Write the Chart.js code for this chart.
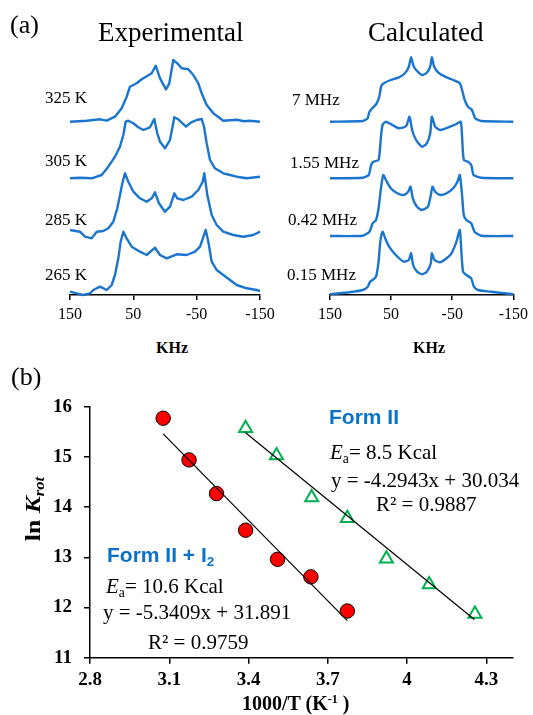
<!DOCTYPE html>
<html>
<head>
<meta charset="utf-8">
<script src="https://cdn.jsdelivr.net/npm/chart.js@4.4.1/dist/chart.umd.min.js"></script>
<style>
  body { margin: 0; background: #fff; }
  #page { position: relative; width: 533px; height: 715px; overflow: hidden; font-family: "Liberation Serif", serif; color: #000; }
  canvas { position: absolute; }
  .t { position: absolute; white-space: nowrap; line-height: 1; }
  .blue { font-family: "Liberation Sans", sans-serif; font-weight: bold; color: #0b72c9; }
  .sub { font-size: 0.65em; position: relative; top: 0.28em; }
</style>
</head>
<body>
<div id="page">
  <canvas id="expChart" width="290" height="330" style="left:0;top:0"></canvas>
  <canvas id="calcChart" width="273" height="330" style="left:260px;top:0"></canvas>
  <canvas id="arrChart" width="533" height="355" style="left:0;top:360px"></canvas>

  <div class="t" style="left:10px;top:12px;font-size:26px">(a)</div>
  <div class="t" style="left:98px;top:19px;font-size:27px">Experimental</div>
  <div class="t" style="left:368px;top:19px;font-size:27px">Calculated</div>

  <div class="t" style="left:45px;top:89px;font-size:17px">325 K</div>
  <div class="t" style="left:45px;top:152px;font-size:17px">305 K</div>
  <div class="t" style="left:45px;top:211px;font-size:17px">285 K</div>
  <div class="t" style="left:45px;top:266px;font-size:17px">265 K</div>

  <div class="t" style="left:292px;top:91px;font-size:17px">7 MHz</div>
  <div class="t" style="left:290px;top:154px;font-size:17px">1.55 MHz</div>
  <div class="t" style="left:288px;top:211px;font-size:17px">0.42 MHz</div>
  <div class="t" style="left:287px;top:266px;font-size:17px">0.15 MHz</div>

  <div class="t" style="left:156px;top:340px;font-size:16px;font-weight:bold">KHz</div>
  <div class="t" style="left:413px;top:340px;font-size:16px;font-weight:bold">KHz</div>

  <div class="t" style="left:11px;top:364px;font-size:26px">(b)</div>

  <div class="t blue" style="left:329px;top:406px;font-size:21px">Form II</div>
  <div class="t" style="left:330px;top:442px;font-size:21px"><i>E</i><span class="sub">a</span>= 8.5 Kcal</div>
  <div class="t" style="left:331px;top:470px;font-size:21px">y = -4.2943x + 30.034</div>
  <div class="t" style="left:376px;top:494px;font-size:21px">R² = 0.9887</div>

  <div class="t blue" style="left:107px;top:544px;font-size:21px">Form II + I<span class="sub">2</span></div>
  <div class="t" style="left:106px;top:576px;font-size:21px"><i>E</i><span class="sub">a</span>= 10.6 Kcal</div>
  <div class="t" style="left:103px;top:602px;font-size:21px">y = -5.3409x + 31.891</div>
  <div class="t" style="left:148px;top:632px;font-size:21px">R² = 0.9759</div>

  <div class="t" style="left:33px;top:509px;transform:translate(-50%,-50%) rotate(-90deg) scaleX(1.22);font-size:21px;font-weight:bold">ln <i>K</i><span class="sub" style="font-style:italic">rot</span></div>
  <div class="t" style="left:242px;top:693px;font-size:20px;font-weight:bold">1000/T (K<span style="font-size:0.6em;position:relative;top:-0.6em">-1</span> )</div>
</div>

<script>
// ---- (a) spectra, frequency in kHz, intensity stacked (arb. units) ----
const k325 = [150, 123.6, 102.6, 92, 79, 68.4, 60.5, 55.3, 44.7, 36.8, 28, 21, 14.7, 7.9, -1.6, -6.8, -13.1, -19.4, -26.4, -36.8, -44.7, -52.6, -57.9, -65.8, -76.3, -92, -113.2, -125, -134.2, -150];
const i325 = [173.3, 174.3, 175.7, 174.3, 178.3, 186.7, 198.3, 208.3, 211.7, 215.7, 219, 221.7, 229.3, 216.7, 205.7, 211.7, 235, 231.7, 226.7, 225.7, 220, 211.7, 201.7, 190, 181.7, 174.3, 175.3, 173.8, 174.3, 173.3];

const k305 = [150, 134.2, 115.7, 100, 89.5, 79, 71.1, 65.8, 62.1, 57.9, 50, 42.2, 34.3, 23.7, 16.9, 12.2, 7.9, 0, -7.9, -14.7, -21, -26.4, -33.2, -40.6, -50, -57.9, -61.6, -65.8, -71.1, -78.9, -92, -102.6, -113.2, -129, -150];
const i305 = [116.7, 117.3, 116.7, 120, 128.3, 138.3, 148.3, 160, 173.3, 174.3, 171.7, 167.7, 165, 167.7, 176, 161.7, 153.3, 146.7, 155, 177.7, 175.7, 172.3, 168.3, 172.3, 175, 176, 168.3, 151.7, 135, 126.7, 121.7, 120, 118.3, 116.7, 118.3];

const k285 = [150, 134.2, 126.3, 115.7, 107.8, 97.4, 89.5, 81.6, 75.3, 71.1, 66.8, 63.2, 57.9, 50, 39.5, 28.9, 21, 15.8, 9.5, 0, -7.9, -14.7, -19.4, -28.9, -42.2, -52.6, -59.5, -62.1, -66.8, -73.7, -81.6, -92, -107.8, -123.6, -139.4, -150];
const i285 = [65, 63.3, 58.3, 56.7, 63.3, 64, 66.7, 73.3, 86.7, 100, 113.3, 121.7, 113.3, 103.3, 96.7, 93.3, 96.7, 102.7, 91.7, 83.3, 88.3, 101.7, 96.7, 95, 98.3, 105, 113.3, 121.7, 100, 80, 70, 63.3, 60, 58.3, 60, 63.3];

const k265 = [150, 139.4, 129, 118.4, 113.2, 102.6, 92, 84.2, 79, 73.7, 70, 65.8, 60.5, 52.6, 39.5, 28.9, 15.8, 7.9, -2.7, -18.5, -34.3, -47.4, -55.3, -64.3, -68.4, -73.7, -81.6, -92, -102.6, -113.2, -129, -144.7, -150];
const i265 = [3.3, 1.7, 0, 1.7, 5, 8.3, 5, 10, 20, 36.7, 53.3, 63.3, 56.7, 48.3, 43.3, 40, 47.3, 40, 36.7, 40.7, 40, 43.3, 48.3, 65, 53.3, 33.3, 25, 20, 15, 10, 6.7, 5, 4];

const k7 = [150, 96.3, 88.7, 85.5, 80.6, 74.2, 69.4, 66.1, 61.3, 50.5, 37.1, 27.4, 21, 17.3, 12.9, 4.8, -1, -8, -14, -16.6, -20.5, -27.4, -38.2, -51.6, -62.4, -66.1, -70.5, -75.8, -82.3, -87.6, -97.3, -150];
const c7 = [173.3, 174, 176.5, 183, 187, 191, 198, 209, 212, 215, 217.7, 221.7, 228.3, 237.7, 228.3, 222.3, 220, 222, 228.3, 237.7, 228.3, 222.3, 218.3, 215, 211.7, 205, 195, 188.3, 185, 176.7, 174, 173.3];

const k155 = [150, 96.3, 86.6, 82.7, 79, 70.5, 66.6, 64, 58.5, 47.9, 37.1, 25.3, 19.9, 15.6, 9.2, -0.5, -8.5, -14, -16.6, -22.1, -30.2, -43.5, -56.9, -64, -66.1, -68.9, -75.8, -81.1, -85, -97.3, -150];
const c155 = [116.7, 117.3, 120, 130, 133.3, 135, 158.3, 170, 173.3, 170, 166.7, 169, 178.3, 165, 155, 148.3, 151.7, 161.7, 178.3, 168.3, 165, 167.7, 171, 173.3, 158.3, 135, 133.3, 130, 120, 117.3, 116.7];

const k042 = [150, 96.3, 85.5, 80.2, 74.7, 70.5, 66.6, 62.9, 58.5, 50.5, 39.8, 29, 22.1, 18.2, 14.5, 7.6, -0.5, -10.2, -15, -17.7, -22.1, -30.2, -40.8, -51.6, -58.5, -62.4, -66.1, -68.9, -73.1, -81.1, -86.6, -97.3, -150];
const c042 = [59, 59.3, 63.3, 71.7, 75, 86.7, 106.7, 120, 115, 106.7, 101.7, 100, 103.3, 108.3, 96.7, 88.3, 85, 88.3, 100, 108.3, 103.3, 100, 101.7, 106.7, 113.3, 120, 100, 80, 75, 71.7, 63.3, 59.3, 59];

const k015 = [150, 133.9, 112.4, 96.3, 88.2, 84.4, 80.2, 74.7, 70.5, 67.7, 64, 59.7, 53.2, 42.4, 29, 21, 17.3, 14, 7.6, -0.5, -8.5, -15, -16.6, -21, -30.2, -40.8, -48.9, -56.9, -62.4, -65, -67.7, -73.1, -81.1, -85.5, -91.9, -113.4, -135, -150];
const c015 = [0.7, 1.7, 3.3, 5, 8.3, 13.3, 15, 18.3, 33.3, 53.3, 63.3, 56.7, 48.3, 40, 33.3, 35, 41.7, 30, 23.3, 20.7, 23.3, 31.7, 41.7, 35, 32.7, 36.7, 41.7, 53.3, 65, 43.3, 23.3, 20, 16.7, 8.3, 5, 3.3, 1.7, 0.7];

// ---- (b) Arrhenius plot ----
const invT_I2 = [3.077, 3.175, 3.279, 3.389, 3.51, 3.636, 3.774];
const lnK_I2 = [15.77, 14.94, 14.27, 13.54, 12.96, 12.61, 11.93];
const invT_II = [3.389, 3.506, 3.639, 3.774, 3.922, 4.084, 4.257];
const lnK_II = [15.57, 15.03, 14.19, 13.78, 12.97, 12.46, 11.87];
const fitX_I2 = [3.077, 3.774];
const fitY_I2 = [15.46, 11.74];
const fitX_II = [3.389, 4.255];
const fitY_II = [15.48, 11.76];
const xTicksB = [2.8, 3.1, 3.4, 3.7, 4, 4.3];

const traceBlue = '#1b75cf';
const pts = (xs, ys) => xs.map((x, i) => ({ x: x, y: ys[i] }));

function spectra(id, traces, padL, padR) {
  return new Chart(document.getElementById(id), {
    type: 'line',
    data: {
      datasets: traces.map(t => ({
        data: pts(t[0], t[1]),
        borderColor: traceBlue,
        borderWidth: 2.4,
        pointRadius: 0,
        tension: t[2],
        borderJoinStyle: 'round',
        fill: false,
        clip: false
      }))
    },
    options: {
      responsive: false,
      animation: false,
      events: [],
      layout: { padding: { top: 50, left: padL, right: padR, bottom: 0 } },
      plugins: { legend: { display: false }, tooltip: { enabled: false } },
      scales: {
        x: {
          type: 'linear', reverse: true, min: -150, max: 150,
          ticks: { stepSize: 100, padding: 5, color: '#000', font: { family: 'Liberation Serif', size: 16 } },
          grid: { display: true, drawOnChartArea: false, drawTicks: true, tickLength: 5, color: '#000', lineWidth: 1.5 },
          border: { display: true, color: '#000', width: 1.5 },
          afterFit: s => { s.height = 35; }
        },
        y: { display: false, min: 0, max: 245 }
      }
    }
  });
}

spectra('expChart', [[k325, i325, 0], [k305, i305, 0], [k285, i285, 0], [k265, i265, 0]], 70, 30);
spectra('calcChart', [[k7, c7, 0.2], [k155, c155, 0.2], [k042, c042, 0.2], [k015, c015, 0.2]], 70, 17);

const tickFont = { family: 'Liberation Serif', size: 19, weight: 'bold' };
new Chart(document.getElementById('arrChart'), {
  type: 'scatter',
  data: {
    datasets: [
      { type: 'line', data: pts(fitX_I2, fitY_I2), borderColor: '#000', borderWidth: 1.2, pointRadius: 0, showLine: true },
      { type: 'line', data: pts(fitX_II, fitY_II), borderColor: '#000', borderWidth: 1.2, pointRadius: 0, showLine: true },
      { data: pts(invT_I2, lnK_I2), pointStyle: 'circle', pointRadius: 7.2, backgroundColor: '#ff0000', borderColor: '#000', borderWidth: 1 },
      { data: pts(invT_II, lnK_II), pointStyle: 'triangle', pointRadius: 7.5, backgroundColor: 'rgba(0,0,0,0)', borderColor: '#00b050', borderWidth: 2 }
    ]
  },
  options: {
    responsive: false,
    animation: false,
    events: [],
    layout: { padding: { top: 46.7, right: 20.3, bottom: 0, left: 0 } },
    plugins: { legend: { display: false }, tooltip: { enabled: false } },
    scales: {
      x: {
        type: 'linear', min: 2.8, max: 4.4,
        afterBuildTicks: s => { s.ticks = xTicksB.map(v => ({ value: v })); },
        ticks: { callback: v => String(v), font: tickFont, color: '#000', padding: 5 },
        grid: { drawOnChartArea: false, tickLength: 6, color: '#000', lineWidth: 1.5 },
        border: { color: '#000', width: 1.5 },
        afterFit: s => { s.height = 57.3; }
      },
      y: {
        type: 'linear', min: 11, max: 16,
        ticks: { stepSize: 1, font: tickFont, color: '#000', padding: 12 },
        grid: { drawOnChartArea: false, tickLength: 6, color: '#000', lineWidth: 1.5 },
        border: { color: '#000', width: 1.5 },
        afterFit: s => { s.width = 90; }
      }
    }
  }
});
</script>
</body>
</html>
